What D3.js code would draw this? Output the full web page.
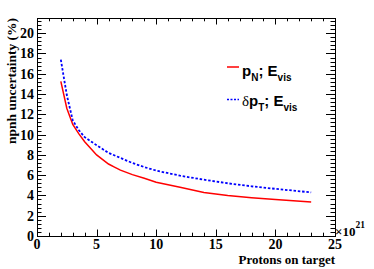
<!DOCTYPE html>
<html>
<head>
<meta charset="utf-8">
<script src="https://cdn.jsdelivr.net/npm/d3@7"></script>
<style>
  body { margin: 0; background: #fff; }
  svg { display: block; }
  text { fill: #000; }
</style>
</head>
<body>
<svg id="chart"></svg>
<script>
// Data (x in units of 1e21 POT)
const potValues = [2, 2.5, 3, 3.5, 4, 5, 6, 6.5, 7, 8, 9, 10, 12, 14, 16, 18, 20, 23];
const pnUncertainty = [15.25, 12.6, 11.0, 10.1, 9.3, 8.0, 7.1, 6.8, 6.5, 6.05, 5.7, 5.3, 4.8, 4.3, 4.0, 3.78, 3.6, 3.35];
const potValuesDpt = [2, 2.5, 3, 3.5, 4, 5, 6, 7, 8, 9, 10, 12, 14, 16, 18, 20, 23];
const dptUncertainty = [17.4, 13.9, 11.4, 10.45, 9.75, 8.95, 8.2, 7.7, 7.2, 6.8, 6.45, 5.95, 5.55, 5.2, 4.9, 4.65, 4.3];

const xMajorTicks = [0, 5, 10, 15, 20, 25];
const yMajorTicks = [0, 2, 4, 6, 8, 10, 12, 14, 16, 18, 20];

function drawChart() {
    const width = 374;
    const height = 269;
    const frame = { left: 37, right: 335, top: 18, bottom: 236 };

    const svg = d3.select("#chart")
        .attr("width", width)
        .attr("height", height);

    const x = d3.scaleLinear().domain([0, 25]).range([frame.left, frame.right]);
    const y = d3.scaleLinear().domain([0, 21.5]).range([frame.bottom, frame.top]);

    const serif = "'Liberation Serif', 'DejaVu Serif', serif";
    const sans = "'Liberation Sans', Arial, sans-serif";

    // ticks (ROOT style: on all four sides, pointing inward)
    const xMinor = d3.range(0, 25.01, 1);
    const yMinor = d3.range(0, 21.5, 0.4);
    const xMaj = 6.5, xMin = 3.3, yMaj = 9, yMin = 4.5;
    const ticks = svg.append("g").attr("stroke", "#000").attr("stroke-width", 1);

    xMinor.forEach(v => {
        const len = xMajorTicks.includes(v) ? xMaj : xMin;
        const px = Math.round(x(v)) + 0.5;
        ticks.append("line").attr("x1", px).attr("x2", px)
            .attr("y1", frame.bottom).attr("y2", frame.bottom - len);
        ticks.append("line").attr("x1", px).attr("x2", px)
            .attr("y1", frame.top).attr("y2", frame.top + len);
    });
    yMinor.forEach(v => {
        const isMajor = Math.abs(v / 2 - Math.round(v / 2)) < 1e-6;
        const len = isMajor ? yMaj : yMin;
        const py = Math.round(y(v)) + 0.5;
        ticks.append("line").attr("y1", py).attr("y2", py)
            .attr("x1", frame.left).attr("x2", frame.left + len);
        ticks.append("line").attr("y1", py).attr("y2", py)
            .attr("x1", frame.right).attr("x2", frame.right - len);
    });

    // frame
    svg.append("rect")
        .attr("x", frame.left + 0.5).attr("y", frame.top + 0.5)
        .attr("width", frame.right - frame.left).attr("height", frame.bottom - frame.top)
        .attr("fill", "none").attr("stroke", "#000").attr("stroke-width", 1);

    // tick labels
    svg.append("g").selectAll("text")
        .data(xMajorTicks)
        .join("text")
        .attr("x", d => x(d))
        .attr("y", 249)
        .attr("text-anchor", "middle")
        .style("font", `bold 14px ${serif}`)
        .text(d => d);

    svg.append("g").selectAll("text")
        .data(yMajorTicks)
        .join("text")
        .attr("x", 34)
        .attr("y", d => y(d) + 5)
        .attr("text-anchor", "end")
        .style("font", `bold 14px ${serif}`)
        .text(d => d);

    // x10^21 exponent
    const expo = svg.append("text")
        .attr("x", 335).attr("y", 236)
        .style("font", `bold 13px ${serif}`);
    expo.append("tspan").text("\u00d710");
    expo.append("tspan").attr("dy", -8).style("font-size", "9.5px").text("21");

    // axis titles
    svg.append("text")
        .attr("x", 335).attr("y", 264)
        .attr("text-anchor", "end")
        .style("font", `bold 13px ${serif}`)
        .text("Protons on target");

    svg.append("text")
        .attr("transform", "translate(16,18) rotate(-90)")
        .attr("text-anchor", "end")
        .style("font", `bold 13.5px ${serif}`)
        .text("npnh uncertainty (%)");

    // curves
    const line = d3.line().x(d => x(d[0])).y(d => y(d[1]));

    svg.append("path")
        .datum(d3.zip(potValues, pnUncertainty))
        .attr("d", line)
        .attr("fill", "none")
        .attr("stroke", "#ff0000")
        .attr("stroke-width", 1.5);

    svg.append("path")
        .datum(d3.zip(potValuesDpt, dptUncertainty))
        .attr("d", line)
        .attr("fill", "none")
        .attr("stroke", "#0000ff")
        .attr("stroke-width", 1.8)
        .attr("stroke-dasharray", "2.5,1.8");

    // legend
    const legend = svg.append("g");
    legend.append("line")
        .attr("x1", 227).attr("x2", 239).attr("y1", 67).attr("y2", 67)
        .attr("stroke", "#ff0000").attr("stroke-width", 1.5);
    legend.append("line")
        .attr("x1", 227).attr("x2", 239).attr("y1", 99.5).attr("y2", 99.5)
        .attr("stroke", "#0000ff").attr("stroke-width", 1.5)
        .attr("stroke-dasharray", "2,1.5");

    const l1 = legend.append("text").attr("x", 242).attr("y", 76)
        .style("font", `bold 15px ${sans}`);
    l1.append("tspan").text("p");
    l1.append("tspan").attr("dy", 5).style("font-size", "10px").text("N");
    l1.append("tspan").attr("dy", -5).text("; E");
    l1.append("tspan").attr("dy", 5).style("font-size", "10px").text("vis");

    const l2 = legend.append("text").attr("x", 242).attr("y", 106)
        .style("font", `bold 15px ${sans}`);
    l2.append("tspan").style("font-family", serif).style("font-weight", "normal").text("\u03b4");
    l2.append("tspan").text("p");
    l2.append("tspan").attr("dy", 5).style("font-size", "10px").text("T");
    l2.append("tspan").attr("dy", -5).text("; E");
    l2.append("tspan").attr("dy", 5).style("font-size", "10px").text("vis");
}

window.onload = drawChart;
</script>
</body>
</html>
